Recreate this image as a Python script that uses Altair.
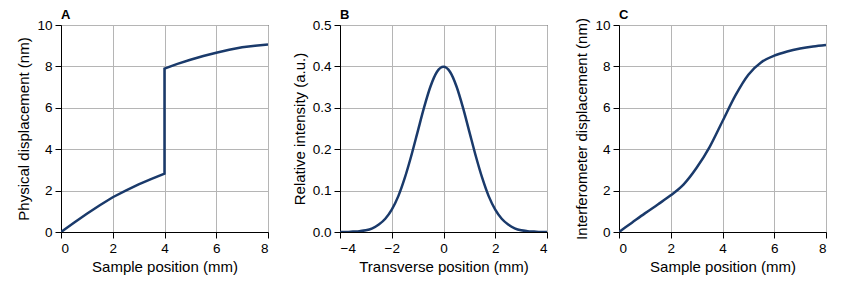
import altair as alt
import pandas as pd

LINE = "#1a3a6b"
FONT = "Liberation Sans"

# Panel A: physical displacement (step at 4 mm)
a_x = [0, 0.5, 1, 1.5, 2, 2.5, 3, 3.5, 4, 4, 4.5, 5, 5.5, 6, 6.5, 7, 7.5, 8]
a_y = [0, 0.45, 0.88, 1.29, 1.68, 2.0, 2.3, 2.57, 2.82, 7.89, 8.12, 8.32, 8.5, 8.66, 8.8, 8.92, 9.0, 9.06]

# Panel B: relative intensity
b_x = [-4, -3.75, -3.5, -3.25, -3, -2.75, -2.5, -2.25, -2, -1.75, -1.5, -1.25, -1, -0.75, -0.5, -0.25,
       0, 0.25, 0.5, 0.75, 1, 1.25, 1.5, 1.75, 2, 2.25, 2.5, 2.75, 3, 3.25, 3.5, 3.75, 4]
b_y = [0.000, 0.000, 0.001, 0.002, 0.004, 0.009, 0.018, 0.032, 0.054, 0.086, 0.130, 0.183, 0.242, 0.301, 0.352, 0.387,
       0.399, 0.387, 0.352, 0.301, 0.242, 0.183, 0.130, 0.086, 0.054, 0.032, 0.018, 0.009, 0.004, 0.002, 0.001, 0.000, 0.000]

# Panel C: interferometer displacement
c_x = [0, 0.5, 1, 1.5, 2, 2.5, 3, 3.5, 4, 4.5, 5, 5.5, 6, 6.5, 7, 7.5, 8]
c_y = [0, 0.45, 0.9, 1.33, 1.77, 2.3, 3.1, 4.1, 5.35, 6.6, 7.6, 8.2, 8.52, 8.72, 8.86, 8.96, 9.03]

panel_labels = ["A", "B", "C"]

W = 207
H = 207


def axis(values, fmt=None):
    kw = dict(values=values, tickSize=6, labelPadding=3, titlePadding=5,
              domainColor="black", tickColor="black", grid=True,
              gridColor="#b5b5b5", gridWidth=1,
              labelFont=FONT, titleFont=FONT, labelFontSize=13.5, titleFontSize=15,
              labelColor="black", titleColor="black", titleFontWeight="normal")
    if fmt:
        kw["format"] = fmt
    return alt.Axis(**kw)


def panel(df, xdom, xticks, ydom, yticks, xtitle, ytitle, label, interp, yfmt=None):
    line = alt.Chart(df).mark_line(color=LINE, strokeWidth=2.5, interpolate=interp, clip=True).encode(
        x=alt.X("x:Q", scale=alt.Scale(domain=xdom, nice=False, zero=False), axis=axis(xticks), title=xtitle),
        y=alt.Y("y:Q", scale=alt.Scale(domain=ydom, nice=False, zero=False), axis=axis(yticks, yfmt), title=ytitle),
        order="i:Q",
    )
    tag = alt.Chart(pd.DataFrame({"t": [label]})).mark_text(
        font=FONT, fontSize=13, fontWeight="bold", color="black", align="left", baseline="alphabetic"
    ).encode(x=alt.value(0), y=alt.value(-6), text="t:N")
    return alt.layer(line, tag).properties(width=W, height=H)


dfa = pd.DataFrame({"x": a_x, "y": a_y, "i": range(len(a_x))})
dfb = pd.DataFrame({"x": b_x, "y": b_y, "i": range(len(b_x))})
dfc = pd.DataFrame({"x": c_x, "y": c_y, "i": range(len(c_x))})

pa = panel(dfa, [0, 8], [0, 2, 4, 6, 8], [0, 10], [0, 2, 4, 6, 8, 10],
           "Sample position (mm)", "Physical displacement (nm)", panel_labels[0], "linear")
pb = panel(dfb, [-4, 4], [-4, -2, 0, 2, 4], [0, 0.5], [0, 0.1, 0.2, 0.3, 0.4, 0.5],
           "Transverse position (mm)", "Relative intensity (a.u.)", panel_labels[1], "monotone", ".1f")
pc = panel(dfc, [0, 8], [0, 2, 4, 6, 8], [0, 10], [0, 2, 4, 6, 8, 10],
           "Sample position (mm)", "Interferometer displacement (nm)", panel_labels[2], "monotone")

chart = alt.hconcat(pa, pb, pc, spacing=72, bounds="flush").configure(
    padding={"left": 8, "top": 0, "right": 5, "bottom": 5}
).configure_view(
    stroke="black", strokeWidth=1
)

chart.save("out.html", embed_options={"renderer": "svg", "actions": False})
